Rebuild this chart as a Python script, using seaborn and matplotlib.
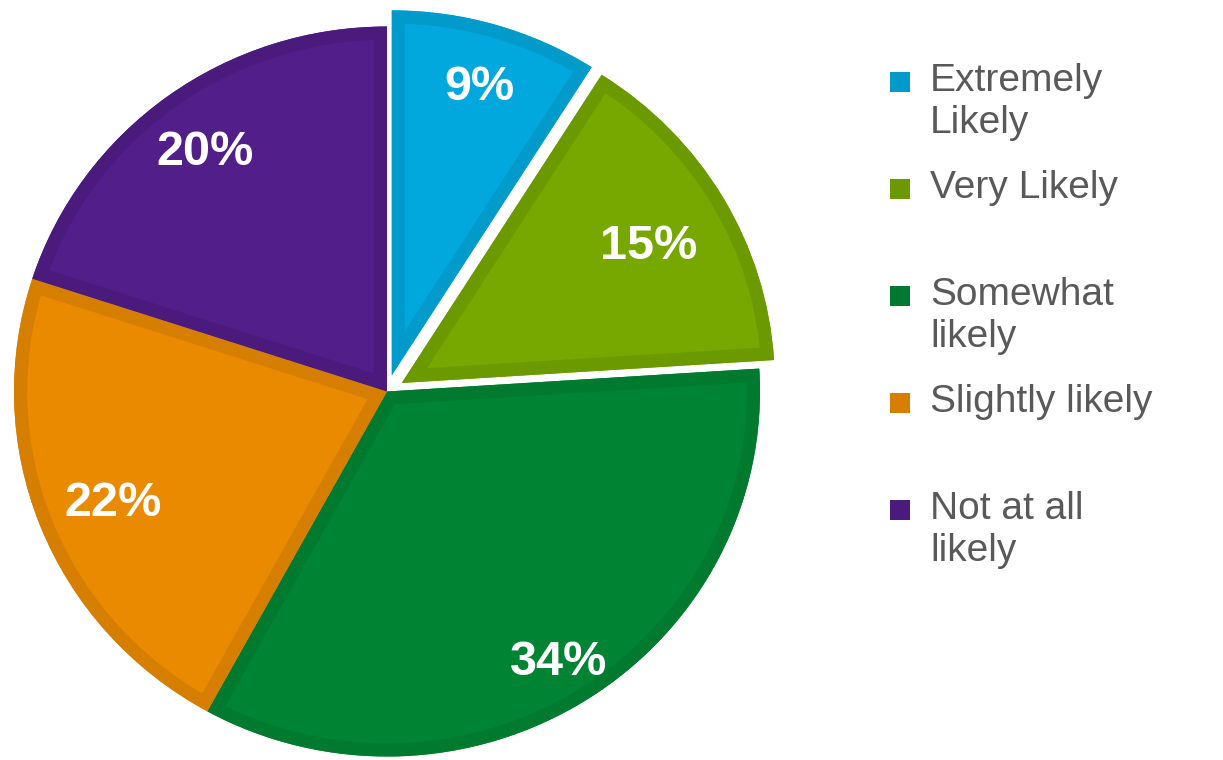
import matplotlib
matplotlib.use("Agg")
import numpy as np
import matplotlib.pyplot as plt
from matplotlib.patches import Rectangle, Wedge
import seaborn as sns

# Survey response shares (percent)
categories = ["Extremely\nLikely", "Very Likely", "Somewhat\nlikely", "Slightly likely", "Not at all\nlikely"]
shares = [9, 15, 34, 22, 20]
exploded = [0.046, 0.046, 0, 0, 0]
label_dist = [0.84, 0.77, 0.86, 0.79, 0.83]

fill_colors = ["#00A8DE", "#76A800", "#008434", "#E98A00", "#521E8A"]
edge_colors = ["#009ACB", "#6A9900", "#007A2E", "#D67E00", "#4A1B7C"]

sns.set_theme(style="white")
plt.rcParams["font.family"] = ["Liberation Sans", "DejaVu Sans"]

W, H = 1223, 760
fig = plt.figure(figsize=(W / 100, H / 100), dpi=100)
fig.patch.set_facecolor("white")

# Pie area: centre (387, 391.5) px, radii 373 x 365 px, axis limits +-1.25
cx, cy, rx, ry, lim = 387, 391.5, 373, 365, 1.25
aw, ah = 2 * lim * rx, 2 * lim * ry
ax = fig.add_axes([(cx - aw / 2) / W, (H - cy - ah / 2) / H, aw / W, ah / H])

wedges, texts, autotexts = ax.pie(
    shares,
    colors=sns.color_palette(fill_colors),
    explode=exploded,
    startangle=90,
    counterclock=False,
    autopct="%.0f%%",
    pctdistance=0.81,
    wedgeprops=dict(linewidth=0),
    textprops=dict(color="white", fontsize=35, fontweight="bold", zorder=5),
)
ax.set_aspect("auto")
ax.set_xlim(-lim, lim)
ax.set_ylim(-lim, lim)
ax.axis("off")

# darker rim inside each slice: a stroked copy clipped to the slice outline
for w, ec in zip(wedges, edge_colors):
    rim = Wedge(w.center, w.r, w.theta1, w.theta2, facecolor="none",
                edgecolor=ec, linewidth=19, joinstyle="miter", zorder=3)
    ax.add_patch(rim)
    rim.set_clip_on(True)
    rim.set_clip_path(w)

# per-slice radial placement of the percentage labels (digits optically centred)
y_nudge = -0.017
for w, t, d in zip(wedges, autotexts, label_dist):
    mid = np.deg2rad((w.theta1 + w.theta2) / 2)
    t.set_position((w.center[0] + d * np.cos(mid),
                    w.center[1] + d * np.sin(mid) + y_nudge))

# Legend column on the right
sw_x, sw_size = 890, 20
text_x = 930
first_top = 63
pitch = 107
for i, (label, ec) in enumerate(zip(categories, edge_colors)):
    top = first_top + i * pitch
    fig.add_artist(Rectangle((sw_x / W, (H - top - 9 - sw_size) / H),
                             sw_size / W, sw_size / H,
                             transform=fig.transFigure, facecolor=ec,
                             edgecolor="none"))
    fig.text(text_x / W, (H - top) / H, label, fontsize=28,
             color="#595959", ha="left", va="top", linespacing=1.2)

fig.savefig("out.png", dpi=100, facecolor="white")
